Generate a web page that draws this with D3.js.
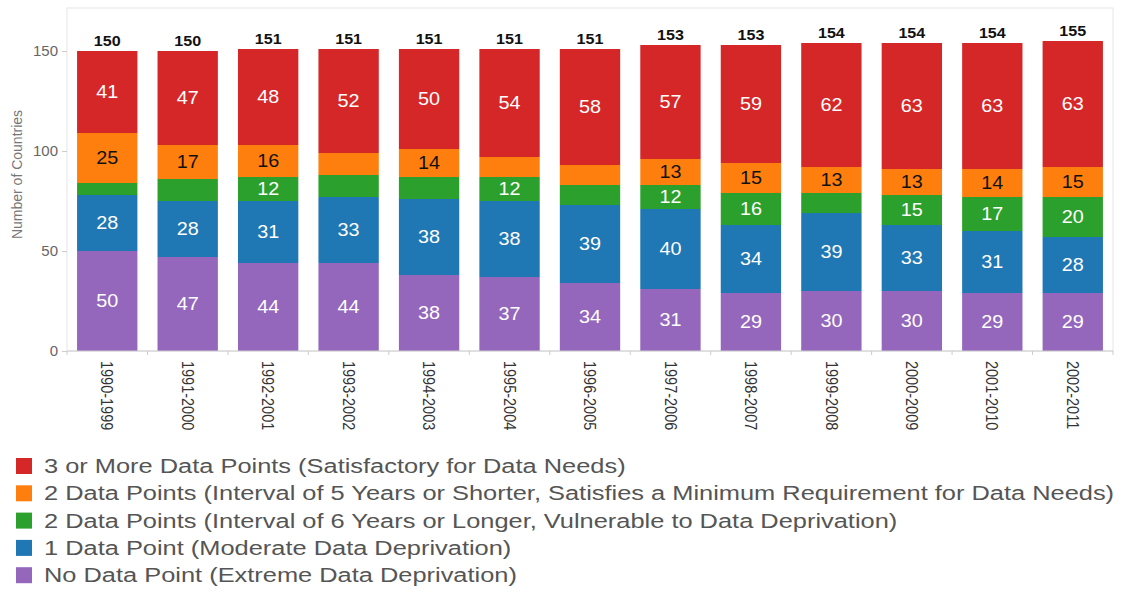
<!DOCTYPE html>
<html><head><meta charset="utf-8">
<script src="https://cdn.jsdelivr.net/npm/d3@7"></script>
<style>body{margin:0;background:#fff;} svg{display:block;font-family:"Liberation Sans",Arial,sans-serif;}</style>
</head><body>
<script>
const categories = ["1990-1999","1991-2000","1992-2001","1993-2002","1994-2003","1995-2004","1996-2005","1997-2006","1998-2007","1999-2008","2000-2009","2001-2010","2002-2011"];
const seriesNames = [
  "No Data Point (Extreme Data Deprivation)",
  "1 Data Point (Moderate Data Deprivation)",
  "2 Data Points (Interval of 6 Years or Longer, Vulnerable to Data Deprivation)",
  "2 Data Points (Interval of 5 Years or Shorter, Satisfies a Minimum Requirement for Data Needs)",
  "3 or More Data Points (Satisfactory for Data Needs)"
];
const noData     = [50,47,44,44,38,37,34,31,29,30,30,29,29];
const onePoint   = [28,28,31,33,38,38,39,40,34,39,33,31,28];
const twoLong    = [6,11,12,11,11,12,10,12,16,10,15,17,20];
const twoShort   = [25,17,16,11,14,10,10,13,15,13,13,14,15];
const threePlus  = [41,47,48,52,50,54,58,57,59,62,63,63,63];
const yTicks = [0,50,100,150];
const colors = ["#9467bd","#1f77b4","#2ca02c","#ff7f0e","#d62728"];
const labelColors = ["#fff","#fff","#fff","#111","#fff"];
const seriesValues = [noData, onePoint, twoLong, twoShort, threePlus];

(function(){
const W = 1130, H = 591;
const svg = d3.select("body").append("svg").attr("width", W).attr("height", H);

const pL = 67, pR = 1113, pT = 8, pB = 351;
const x = d3.scaleBand().domain(categories).range([pL, pR]).paddingInner(0.25).paddingOuter(0.125);
const y = d3.scaleLinear().domain([0, 171.5]).range([pB, pT]);

svg.append("rect").attr("x", pL).attr("y", pT).attr("width", pR-pL).attr("height", pB-pT)
  .attr("fill", "none").attr("stroke", "#e6e6e6").attr("stroke-width", 1);

const rows = categories.map((c, i) => {
  const r = {cat: c};
  seriesValues.forEach((s, k) => r["s"+k] = s[i]);
  return r;
});
const totals = categories.map((c, i) => seriesValues.reduce((a, s) => a + s[i], 0));
const stack = d3.stack().keys(seriesValues.map((s,k)=>"s"+k))(rows);

const g = svg.append("g");
stack.forEach((layer, k) => {
  const lg = g.append("g");
  lg.selectAll("rect").data(layer).join("rect")
    .attr("x", d => x(d.data.cat)).attr("width", x.bandwidth())
    .attr("y", d => y(d[1])).attr("height", d => y(d[0]) - y(d[1]))
    .attr("fill", colors[k]);
  lg.selectAll("text").data(layer.filter(d => d[1]-d[0] >= 12)).join("text")
    .attr("transform", d => `translate(${x(d.data.cat) + x.bandwidth()/2},${(y(d[0]) + y(d[1]))/2}) scale(1.1,1)`)
    .attr("text-anchor", "middle").attr("dominant-baseline", "central")
    .attr("font-size", 18).attr("fill", labelColors[k])
    .text(d => d[1]-d[0]);
});

g.selectAll("text.total").data(categories).join("text").attr("class","total")
  .attr("transform", (d, i) => `translate(${x(d) + x.bandwidth()/2},${y(totals[i]) - 5}) scale(1.15,1)`)
  .attr("text-anchor","middle").attr("font-size",14).attr("font-weight","bold").attr("fill","#111")
  .text((d, i) => totals[i]);

const ya = svg.append("g").attr("transform", `translate(${pL},0)`)
  .call(d3.axisLeft(y).tickValues(yTicks).tickSize(5).tickPadding(4));
ya.select(".domain").remove();
ya.selectAll("line").attr("stroke","#ccc");
ya.selectAll("text").attr("font-size",15).attr("fill","#666").attr("font-family","Liberation Sans, Arial, sans-serif");

svg.append("text").attr("transform", `translate(22,${(pT+pB)/2 - 5}) rotate(-90)`)
  .attr("text-anchor","middle").attr("font-size",14).attr("fill","#777").text("Number of Countries");

const xa = svg.append("g").attr("transform", `translate(0,${pB})`);
xa.append("line").attr("x1", pL).attr("x2", pR).attr("stroke","#ccc");
const bounds = categories.map(c => x(c) - x.step()*x.paddingInner()/2);
bounds.push(pR);
xa.selectAll("line.tk").data(bounds).join("line").attr("class","tk")
  .attr("x1", d=>d).attr("x2", d=>d).attr("y1",0).attr("y2",4).attr("stroke","#ccc");
xa.selectAll("text").data(categories).join("text")
  .attr("transform", d => `translate(${x(d)+x.bandwidth()/2},10) rotate(90) scale(1,1.15)`)
  .attr("dominant-baseline","central").attr("font-size",14.5).attr("fill","#333")
  .text(d => d);

const legendOrder = [4,3,2,1,0];
const lgnd = svg.append("g");
legendOrder.forEach((k, i) => {
  const yy = 466 + i*27.3;
  lgnd.append("rect").attr("x",16).attr("y", yy-8).attr("width",16).attr("height",16).attr("fill",colors[k]);
  lgnd.append("text").attr("transform", `translate(44,${yy}) scale(1.27,1)`).attr("dominant-baseline","central")
    .attr("font-size",20).attr("fill","#555").text(seriesNames[k]);
});
})();
</script>
</body></html>
